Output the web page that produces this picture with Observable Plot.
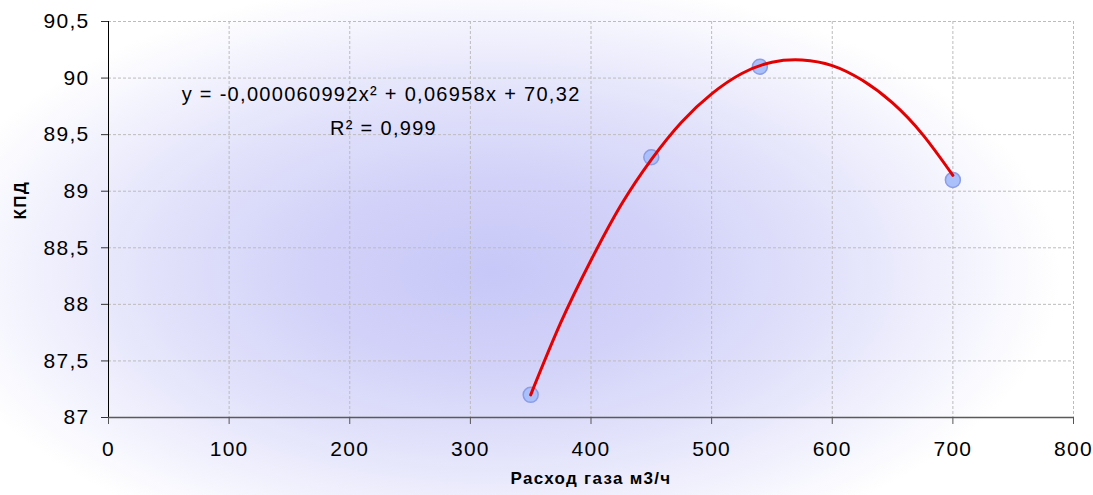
<!DOCTYPE html>
<html>
<head>
<meta charset="utf-8">
<script src="https://cdn.jsdelivr.net/npm/d3@7"></script>
<script src="https://cdn.jsdelivr.net/npm/@observablehq/plot@0.6"></script>
<style>
  html, body { margin: 0; padding: 0; background: #fff; }
  #chart {
    width: 1093px; height: 495px; position: relative;
    background: radial-gradient(ellipse 52% 60% at 45% 55%, #c8c8f8 0%, #d1d1f9 30%, #e2e2fb 60%, #f5f5fe 86%, #ffffff 100%);
  }
  #chart svg { background: transparent !important; display: block; }
</style>
</head>
<body>
<div id="chart"></div>
<script>
// Measured points
const gasFlow = [350, 450, 540, 700];
const efficiency = [87.2, 89.3, 90.1, 89.1];

// Trend line samples
const trendX = [350, 375, 400, 425, 450, 475, 500, 525, 550, 575, 600, 625, 650, 675, 700];
const trendY = [87.20, 87.84, 88.39, 88.88, 89.28, 89.61, 89.86, 90.04, 90.14, 90.16, 90.11, 89.98, 89.78, 89.50, 89.14];

// Axes ticks
const xTicks = [0, 100, 200, 300, 400, 500, 600, 700, 800];
const yTicks = [87, 87.5, 88, 88.5, 89, 89.5, 90, 90.5];

// Texts
const xLabel = "Расход газа м3/ч";
const yLabel = "КПД";
const equation = "y = -0,000060992x² + 0,06958x + 70,32";
const rSquared = "R² = 0,999";

const points = gasFlow.map((x, i) => ({x, y: efficiency[i]}));
const trend = trendX.map((x, i) => ({x, y: trendY[i]}));
const fmt = d => String(d).replace(".", ",");

const chart = Plot.plot({
  width: 1093,
  height: 495,
  marginLeft: 108,
  marginRight: 20,
  marginTop: 21,
  marginBottom: 78,
  style: {fontFamily: "'Liberation Sans', Arial, sans-serif", background: "transparent", color: "#000", letterSpacing: "1.3px"},
  x: {domain: [0, 800]},
  y: {domain: [87, 90.5]},
  marks: [
    Plot.gridX(xTicks, {stroke: "#bcbcbc", strokeOpacity: 1, strokeDasharray: "3,2"}),
    Plot.gridY(yTicks, {stroke: "#bcbcbc", strokeOpacity: 1, strokeDasharray: "3,2"}),
    Plot.ruleX([0], {stroke: "#000", strokeWidth: 1}),
    Plot.ruleY([87], {stroke: "#5a5a5a", strokeWidth: 1.5}),
    Plot.axisX(xTicks, {tickSize: 7, tickPadding: 17, fontSize: 21, label: null, stroke: "#555", tickFormat: d => String(d)}),
    Plot.axisY(yTicks, {tickSize: 7, tickPadding: 12, fontSize: 21, label: null, stroke: "#333", tickFormat: fmt}),
    Plot.dot(points, {x: "x", y: "y", r: 7.5, fill: "#a9c0fb", stroke: "#8c9ce6", strokeWidth: 1.5}),
    Plot.line(trend, {x: "x", y: "y", stroke: "#e20000", strokeWidth: 3, curve: "natural"}),
    Plot.text([equation], {x: 226, y: 89.85, text: d => d, fontSize: 20, textAnchor: "middle", letterSpacing: "1.4px"}),
    Plot.text([rSquared], {x: 228, y: 89.55, text: d => d, fontSize: 20, textAnchor: "middle"}),
    Plot.text([xLabel], {frameAnchor: "bottom", dy: 66, text: d => d, fontSize: 17, fontWeight: "bold"}),
    Plot.text([yLabel], {frameAnchor: "left", dx: -88, rotate: -90, text: d => d, fontSize: 17, fontWeight: "bold"})
  ]
});
document.getElementById("chart").appendChild(chart);
</script>
</body>
</html>
